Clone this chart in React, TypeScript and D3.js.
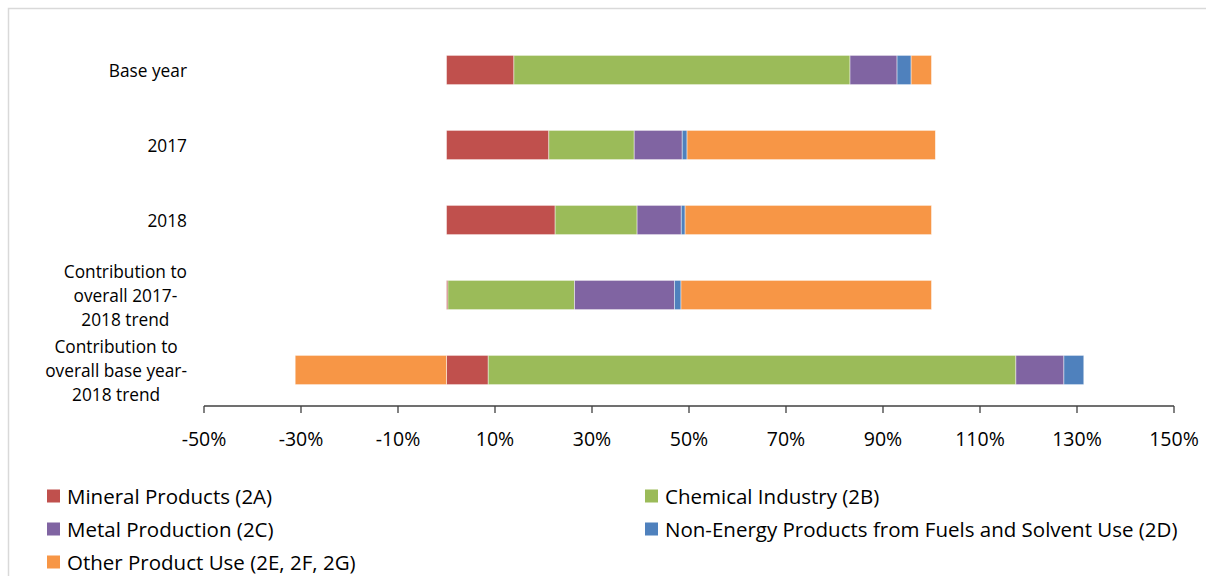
import React from "react";
import * as d3 from "d3";

const categories = [
  ["Base year"],
  ["2017"],
  ["2018"],
  ["Contribution to", "overall 2017-", "2018 trend"],
  ["Contribution to", "overall base year-", "2018 trend"],
];
const seriesNames = [
  "Mineral Products (2A)",
  "Chemical Industry (2B)",
  "Metal Production (2C)",
  "Non-Energy Products from Fuels and Solvent Use (2D)",
  "Other Product Use (2E, 2F, 2G)",
];
const seriesKeys = ["2A", "2B", "2C", "2D", "2E"];
const colors = ["#c0504d", "#9bbb59", "#8064a2", "#4f81bd", "#f79646"];
const mineral = [13.9, 21.1, 22.4, 0.3, 8.6];
const chemical = [69.3, 17.6, 16.9, 26.1, 108.8];
const metal = [9.7, 9.9, 9.1, 20.6, 9.9];
const nonEnergy = [2.9, 1.0, 0.8, 1.35, 4.1];
const other = [4.2, 51.2, 50.8, 51.65, -31.2];
const tickValues = [-50, -30, -10, 10, 30, 50, 70, 90, 110, 130, 150];

const W = 1206;
const H = 576;
const FONT = "'Open Sans', Lato, sans-serif";

function measure(text: string, size: number): number {
  const c = document.createElement("canvas").getContext("2d");
  if (!c) return text.length * size * 0.55;
  c.font = `${size}px 'Open Sans'`;
  return c.measureText(text).width;
}

export default function App() {
  const rows = categories.map((_, i) => ({
    idx: i,
    "2A": mineral[i],
    "2B": chemical[i],
    "2C": metal[i],
    "2D": nonEnergy[i],
    "2E": other[i],
  }));
  const stacked = d3
    .stack<any>()
    .keys(seriesKeys)
    .offset(d3.stackOffsetDiverging)(rows);

  const x = d3.scaleLinear().domain([-50, 150]).range([204, 1174]);
  const y = d3
    .scaleBand<number>()
    .domain(categories.map((_, i) => i))
    .range([32.5, 407.5])
    .paddingInner(0.61)
    .paddingOuter(0.305);
  const axisY = 406;
  const catSize = 17.3;
  const lineH = 24;
  const labelRight = 187;

  const legendPos = [
    [47, 496],
    [645, 496],
    [47, 529],
    [645, 529],
    [47, 562],
  ];

  return (
    <svg
      width={W}
      height={H}
      style={{ position: "absolute", left: 0, top: 0, background: "#fff" }}
      fontFamily={FONT}
    >
      <rect x={8.5} y={8.5} width={1400} height={800} fill="#fff" stroke="#d9d9d9" strokeWidth={1.5} />
      {stacked.map((s, si) => (
        <g key={seriesKeys[si]} fill={colors[si]}>
          {s.map((d, i) => {
            const x0 = x(Math.min(d[0], d[1]));
            const x1 = x(Math.max(d[0], d[1]));
            return (
              <rect
                key={i}
                x={x0}
                y={y(i)}
                width={Math.max(0, x1 - x0)}
                height={y.bandwidth()}
                stroke="#ffffff"
                strokeOpacity={0.6}
                strokeWidth={0.75}
              />
            );
          })}
        </g>
      ))}
      {categories.map((lines, i) => {
        const cy = (y(i) as number) + y.bandwidth() / 2;
        const maxW = Math.max(...lines.map((l) => measure(l, catSize)));
        const cx = lines.length > 1 ? labelRight - maxW / 2 : labelRight;
        return (
          <text
            key={i}
            fontSize={catSize}
            fill="#000"
            textAnchor={lines.length > 1 ? "middle" : "end"}
            dominantBaseline="central"
          >
            {lines.map((l, li) => (
              <tspan key={li} x={cx} y={cy + (li - (lines.length - 1) / 2) * lineH}>
                {l}
              </tspan>
            ))}
          </text>
        );
      })}
      <line x1={x(-50)} x2={x(150)} y1={axisY} y2={axisY} stroke="#404040" strokeWidth={1.3} />
      {tickValues.map((t) => (
        <g key={t}>
          <line x1={x(t)} x2={x(t)} y1={axisY} y2={axisY + 7} stroke="#404040" strokeWidth={1.3} />
          <text x={x(t)} y={438} fontSize={19.5} textAnchor="middle" dominantBaseline="central" fill="#000">
            {`${t}%`}
          </text>
        </g>
      ))}
      {seriesNames.map((n, i) => (
        <g key={n}>
          <rect x={legendPos[i][0]} y={legendPos[i][1] - 6.5} width={13} height={13} fill={colors[i]} />
          <text
            x={legendPos[i][0] + 20}
            y={legendPos[i][1]}
            fontSize={20.5}
            dominantBaseline="central"
            fill="#000"
          >
            {n}
          </text>
        </g>
      ))}
    </svg>
  );
}
